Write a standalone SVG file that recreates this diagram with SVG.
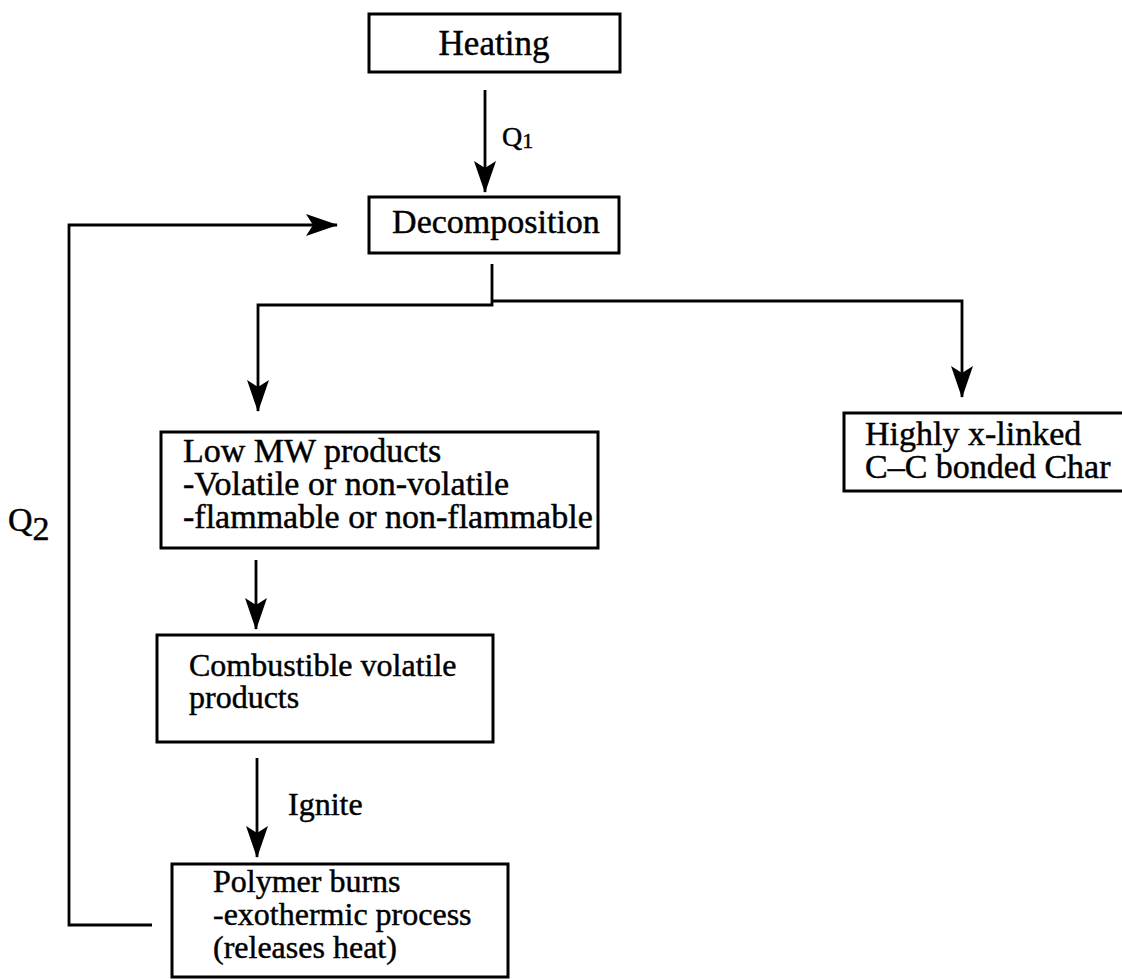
<svg xmlns="http://www.w3.org/2000/svg" width="1122" height="979" viewBox="0 0 1122 979">
  <style>
    .box { fill: #fff; stroke: #000; stroke-width: 3; }
    .lbl { font-family: "Liberation Serif", "Times New Roman", serif; fill: #000; stroke: #000; stroke-width: 0.45; }
    .wire { fill: none; stroke: #000; stroke-width: 2.8; }
  </style>
  <defs>
    <marker id="head" viewBox="-32 -12 34 24" refX="0" refY="0" markerWidth="34" markerHeight="24" markerUnits="userSpaceOnUse" orient="auto">
      <path d="M1,0 L-31,-11 L-24,0 L-31,11 Z" fill="#000"/>
    </marker>
  </defs>
  <rect width="1122" height="979" fill="#fff"/>

  <!-- connectors and their labels -->
  <g id="connectors">
    <line class="wire" x1="485" y1="90" x2="485" y2="192" marker-end="url(#head)"/>
    <path class="wire" d="M492,264 V305 H258 V411" marker-end="url(#head)"/>
    <path class="wire" d="M492,301 H962 V397" marker-end="url(#head)"/>
    <line class="wire" x1="256" y1="560" x2="256" y2="629" marker-end="url(#head)"/>
    <line class="wire" x1="257" y1="758" x2="257" y2="857" marker-end="url(#head)"/>
    <path class="wire" d="M152,925 H69 V225 H337" marker-end="url(#head)"/>
    <text class="lbl" x="502" y="146" font-size="28">Q<tspan font-size="22" dy="2">1</tspan></text>
    <text class="lbl" x="8" y="531" font-size="34">Q<tspan dy="9">2</tspan></text>
    <text class="lbl" x="288" y="815" font-size="32">Ignite</text>
  </g>

  <g id="heating">
    <rect class="box" x="369" y="14" width="251" height="58"/>
    <text class="lbl" x="494" y="55" font-size="35" text-anchor="middle">Heating</text>
  </g>

  <g id="decomposition">
    <rect class="box" x="369" y="197" width="250" height="56"/>
    <text class="lbl" x="496" y="233" font-size="34" text-anchor="middle">Decomposition</text>
  </g>

  <g id="low-mw">
    <rect class="box" x="161" y="432" width="437" height="116"/>
    <text class="lbl" x="183" y="462" font-size="34">Low MW products</text>
    <text class="lbl" x="183" y="495" font-size="34">-Volatile or non-volatile</text>
    <text class="lbl" x="183" y="528" font-size="34">-flammable or non-flammable</text>
  </g>

  <g id="char">
    <rect class="box" x="844" y="413" width="290" height="78"/>
    <text class="lbl" x="865" y="445" font-size="34">Highly x-linked</text>
    <text class="lbl" x="865" y="478" font-size="34">C–C bonded Char</text>
  </g>

  <g id="combustible">
    <rect class="box" x="157" y="635" width="336" height="107"/>
    <text class="lbl" x="189" y="676" font-size="32">Combustible volatile</text>
    <text class="lbl" x="189" y="708" font-size="32">products</text>
  </g>

  <g id="polymer-burns">
    <rect class="box" x="172" y="864" width="336" height="113"/>
    <text class="lbl" x="213" y="892" font-size="32">Polymer burns</text>
    <text class="lbl" x="213" y="925" font-size="32">-exothermic process</text>
    <text class="lbl" x="213" y="958" font-size="32">(releases heat)</text>
  </g>
</svg>
